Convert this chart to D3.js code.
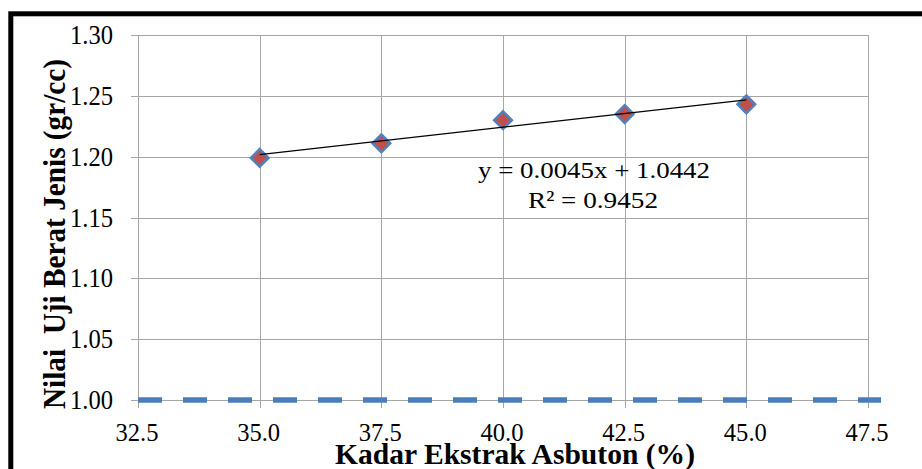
<!DOCTYPE html>
<html><head><meta charset="utf-8">
<script src="https://cdn.jsdelivr.net/npm/d3@7"></script>
<style>html,body{margin:0;padding:0;background:#fff;}svg{display:block;}</style>
</head><body><div id="chart"></div>
<script>
const xValues = [35.0, 37.5, 40.0, 42.5, 45.0];
const yValues = [1.199, 1.211, 1.230, 1.235, 1.243];
const xTicks = [32.5, 35.0, 37.5, 40.0, 42.5, 45.0, 47.5];
const yTicks = [1.00, 1.05, 1.10, 1.15, 1.20, 1.25, 1.30];
const limitX = [32.5, 47.5];
const limitY = [1.00, 1.00];
const trendSlope = 0.0045, trendIntercept = 1.0442;
const eqLines = ["y = 0.0045x + 1.0442", "R² = 0.9452"];
const xTitle = "Kadar Ekstrak Asbuton (%)";
const yTitle = "Nilai\u00a0 Uji Berat Jenis (gr/cc)";

const W = 922, H = 469;
const svg = d3.select("#chart").append("svg").attr("width", W).attr("height", H);
const serif = "Liberation Serif, Times New Roman, serif";

// frame
svg.append("rect").attr("x", 10.8).attr("y", 13.8).attr("width", 1000).attr("height", 600)
  .attr("fill", "#fff").attr("stroke", "#000").attr("stroke-width", 5);

const x = d3.scaleLinear().domain([32.5, 47.5]).range([138, 868]);
const y = d3.scaleLinear().domain([1.00, 1.30]).range([400, 35]);

const grid = "#a6a6a6";
svg.append("g").selectAll("line").data(yTicks).join("line")
  .attr("x1", x(32.5) - 7).attr("x2", x(47.5))
  .attr("y1", d => Math.round(y(d)) + 0.5).attr("y2", d => Math.round(y(d)) + 0.5)
  .attr("stroke", grid).attr("stroke-width", 1);
svg.append("g").selectAll("line").data(xTicks).join("line")
  .attr("y1", y(1.30)).attr("y2", y(1.00) + 8)
  .attr("x1", d => Math.round(x(d)) + 0.5).attr("x2", d => Math.round(x(d)) + 0.5)
  .attr("stroke", grid).attr("stroke-width", 1);

svg.append("g").selectAll("text").data(yTicks).join("text")
  .attr("x", 113).attr("y", d => y(d) + 9)
  .attr("text-anchor", "end")
  .attr("font-family", serif).attr("font-size", 27)
  .attr("textLength", 43).attr("lengthAdjust", "spacingAndGlyphs")
  .text(d => d.toFixed(2));
svg.append("g").selectAll("text").data(xTicks).join("text")
  .attr("x", d => x(d) - 1).attr("y", 441)
  .attr("text-anchor", "middle")
  .attr("font-family", serif).attr("font-size", 26)
  .attr("textLength", 43).attr("lengthAdjust", "spacingAndGlyphs")
  .text(d => d.toFixed(1));

svg.append("line")
  .attr("x1", x(limitX[0])).attr("x2", x(limitX[1]) + 13)
  .attr("y1", y(limitY[0])).attr("y2", y(limitY[1]))
  .attr("stroke", "#4a7ebb").attr("stroke-width", 5.5)
  .attr("stroke-dasharray", "24,21");

const pts = xValues.map((v, i) => [v, yValues[i]]);
svg.append("g").selectAll("path").data(pts).join("path")
  .attr("d", d3.symbol().type(d3.symbolDiamond2).size(200))
  .attr("transform", d => `translate(${x(d[0])},${y(d[1])})`)
  .attr("fill", "#c0504d").attr("stroke", "#4f81bd").attr("stroke-width", 2.5);

const tx = d3.extent(xValues);
svg.append("path")
  .datum(tx.map(v => [v, trendSlope * v + trendIntercept]))
  .attr("d", d3.line().x(d => x(d[0])).y(d => y(d[1])))
  .attr("stroke", "#000").attr("stroke-width", 1.2).attr("fill", "none");

svg.append("text").attr("x", 594).attr("y", 178).attr("text-anchor", "middle")
  .attr("font-family", serif).attr("font-size", 24)
  .attr("textLength", 232).attr("lengthAdjust", "spacingAndGlyphs").text(eqLines[0]);
svg.append("text").attr("x", 593).attr("y", 208).attr("text-anchor", "middle")
  .attr("font-family", serif).attr("font-size", 24)
  .attr("textLength", 130).attr("lengthAdjust", "spacingAndGlyphs").text(eqLines[1]);

svg.append("text").attr("x", 515).attr("y", 464).attr("text-anchor", "middle")
  .attr("font-family", serif).attr("font-weight", "bold").attr("font-size", 30)
  .attr("textLength", 360).attr("lengthAdjust", "spacingAndGlyphs").text(xTitle);
svg.append("text").attr("transform", "translate(65,234) rotate(-90)").attr("text-anchor", "middle")
  .attr("font-family", serif).attr("font-weight", "bold").attr("font-size", 31)
  .attr("textLength", 350).attr("lengthAdjust", "spacingAndGlyphs").text(yTitle);
</script></body></html>
